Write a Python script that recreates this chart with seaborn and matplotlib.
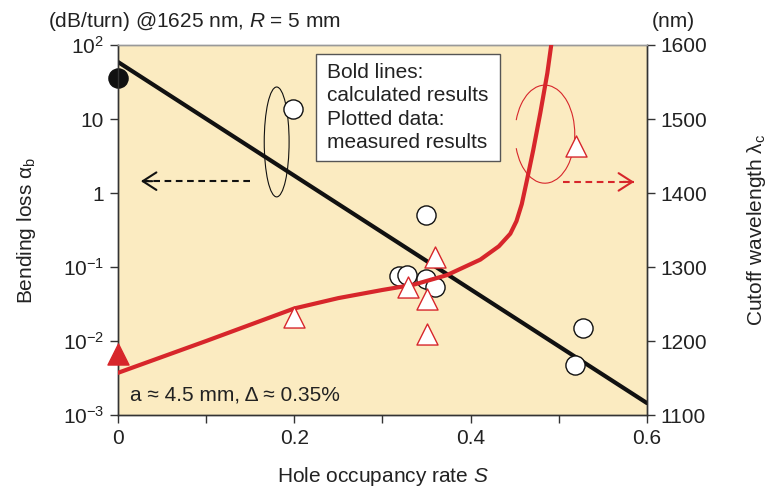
import numpy as np
import pandas as pd
import matplotlib
matplotlib.use('Agg')
import matplotlib.pyplot as plt
import seaborn as sns
from matplotlib.patches import Ellipse, Arc, Rectangle

# ── data ─────────────────────────────────────────────────
# calculated bending loss (straight on log scale)
s_loss_calc = [0.0, 0.6]
loss_calc = [59.0, 1.45e-3]

# calculated cutoff wavelength
s_cut_calc = [0.0, 0.1, 0.2, 0.25, 0.3, 0.335, 0.373, 0.411, 0.432, 0.445,
              0.452, 0.458, 0.464, 0.471, 0.479, 0.487, 0.492]
cut_calc = [1157, 1200, 1244, 1258, 1269, 1276, 1289, 1310, 1328, 1345,
            1362, 1385, 1418, 1458, 1508, 1562, 1605]

# measured bending loss
s_loss_meas = [0.198, 0.349, 0.319, 0.328, 0.349, 0.36, 0.527, 0.518]
loss_meas = [13.6, 0.50, 0.076, 0.079, 0.068, 0.054, 0.015, 0.0048]
s_loss_ref = [0.0]
loss_ref = [35.8]

# measured cutoff wavelength
s_cut_meas = [0.2, 0.519, 0.36, 0.329, 0.35, 0.351]
cut_meas = [1233, 1464, 1314, 1273, 1257, 1210]
s_cut_ref = [0.0]
cut_ref = [1182]

x_ticks = [0, 0.1, 0.2, 0.3, 0.4, 0.5, 0.6]
x_labels = ['0', '', '0.2', '', '0.4', '', '0.6']
loss_ticks = [1e-3, 1e-2, 1e-1, 1, 10, 100]
loss_labels = [r'$10^{-3}$', r'$10^{-2}$', r'$10^{-1}$', '1', '10', r'$10^{2}$']
cut_ticks = [1100, 1200, 1300, 1400, 1500, 1600]
note_lines = ['Bold lines:', 'calculated results', 'Plotted data:', 'measured results']

# ── style ───────────────────────────────────────────────
sns.set_style('ticks')
plt.rcParams['font.family'] = ['Liberation Sans', 'DejaVu Sans']
plt.rcParams['mathtext.fontset'] = 'custom'
plt.rcParams['mathtext.rm'] = 'Liberation Sans'
plt.rcParams['mathtext.it'] = 'Liberation Sans:italic'
plt.rcParams['mathtext.bf'] = 'Liberation Sans:bold'

RED = '#d7262b'
BG = '#fbebc1'
FS = 15
TXT = '#222222'

fig = plt.figure(figsize=(7.68, 4.87), dpi=100)
ax = fig.add_axes([0.1536, 0.1478, 0.6888, 0.7598])
ax.set_facecolor(BG)
ax2 = ax.twinx()

# calculated lines
sns.lineplot(x=s_loss_calc, y=loss_calc, ax=ax, color='#111111', lw=3.0, zorder=3)
sns.lineplot(x=s_cut_calc, y=cut_calc, ax=ax2, color=RED, lw=3.0, zorder=3, sort=False)

# measured points
sns.scatterplot(x=s_loss_meas, y=loss_meas, ax=ax, marker='o', s=190,
                facecolor='white', edgecolor='#111111', linewidth=1.0, zorder=4)
sns.scatterplot(x=s_loss_ref, y=loss_ref, ax=ax, marker='o', s=190,
                color='#111111', edgecolor='#111111', linewidth=1.0, zorder=5, clip_on=False)
sns.scatterplot(x=s_cut_meas, y=cut_meas, ax=ax2, marker='^', s=230,
                facecolor='white', edgecolor=RED, linewidth=1.0, zorder=5)
sns.scatterplot(x=s_cut_ref, y=cut_ref, ax=ax2, marker='^', s=230,
                color=RED, edgecolor=RED, linewidth=1.0, zorder=5, clip_on=False)

# axes
ax.set_yscale('log')
ax.set_xlim(0, 0.6)
ax.set_ylim(1e-3, 1e2)
ax2.set_ylim(1100, 1600)
ax.set_xticks(x_ticks)
ax.set_xticklabels(x_labels)
ax.set_yticks(loss_ticks)
ax.set_yticklabels(loss_labels)
ax.yaxis.set_minor_locator(matplotlib.ticker.NullLocator())
ax2.set_yticks(cut_ticks)
ax2.set_yticklabels([str(t) for t in cut_ticks])

for a in (ax, ax2):
    a.tick_params(direction='out', length=6, width=1.0, color='#333333',
                  labelsize=FS, labelcolor=TXT, pad=4)
    for sp in a.spines.values():
        sp.set_color('#333333')
        sp.set_linewidth(1.0)
    a.spines['top'].set_color('#999999')
    a.spines['top'].set_visible(True)
    a.spines['right'].set_visible(True)

ax.set_xlabel('Hole occupancy rate $S$', fontsize=FS, color=TXT)
ax.xaxis.set_label_coords(0.5, -0.135)
ax.set_ylabel(r'Bending loss α$_{\mathrm{b}}$', fontsize=FS, color=TXT, va='center')
ax.yaxis.set_label_coords(-0.172, 0.5)
ax2.set_ylabel(r'Cutoff wavelength λ$_{\mathrm{c}}$', fontsize=FS, color=TXT,
               rotation=90, va='center')
ax2.yaxis.set_label_coords(1.208, 0.5)

fig.text(0.0625, 0.955, '(dB/turn) @1625 nm, $R$ = 5 mm', fontsize=FS,
         color=TXT, va='center', ha='left')
fig.text(0.849, 0.955, '(nm)', fontsize=FS, color=TXT, va='center', ha='left')

# note box
ax.add_patch(Rectangle((0.374, 0.687), 0.348, 0.289, transform=ax.transAxes,
                       facecolor='white', edgecolor='#555555', lw=1.0, zorder=6))
for i, line in enumerate(note_lines):
    ax.text(0.395, 0.927 - i * 0.0635, line, transform=ax.transAxes,
            fontsize=FS, color=TXT, va='center', ha='left', zorder=7)

ax.text(0.023, 0.054, 'a ≈ 4.5 mm, Δ ≈ 0.35%', transform=ax.transAxes,
        fontsize=FS, color=TXT, va='center', ha='left')

# ellipses grouping data to axes
ax.add_patch(Ellipse((0.30, 0.738), 0.047, 0.297, transform=ax.transAxes,
                     fill=False, edgecolor='#111111', lw=0.8, zorder=3))
ax.add_patch(Arc((0.807, 0.759), 0.113, 0.265, transform=ax.transAxes,
                 theta1=-145, theta2=145, edgecolor=RED, lw=0.8, zorder=3))

# dashed arrows
ax.plot([0.2495, 0.045], [0.632, 0.632], transform=ax.transAxes,
        color='#111111', ls=(0, (3.2, 2.2)), lw=1.5, zorder=3)
ax.annotate('', xy=(0.038, 0.632), xytext=(0.07, 0.632), xycoords='axes fraction',
            arrowprops=dict(arrowstyle='->,head_length=0.7,head_width=0.45',
                            color='#111111', lw=1.5, mutation_scale=14))
ax.plot([0.841, 0.975], [0.630, 0.630], transform=ax.transAxes,
        color=RED, ls=(0, (3.2, 2.2)), lw=1.5, zorder=3)
ax.annotate('', xy=(0.981, 0.630), xytext=(0.95, 0.630), xycoords='axes fraction',
            arrowprops=dict(arrowstyle='->,head_length=0.7,head_width=0.45',
                            color=RED, lw=1.5, mutation_scale=14))

fig.savefig('out.png', dpi=100)
